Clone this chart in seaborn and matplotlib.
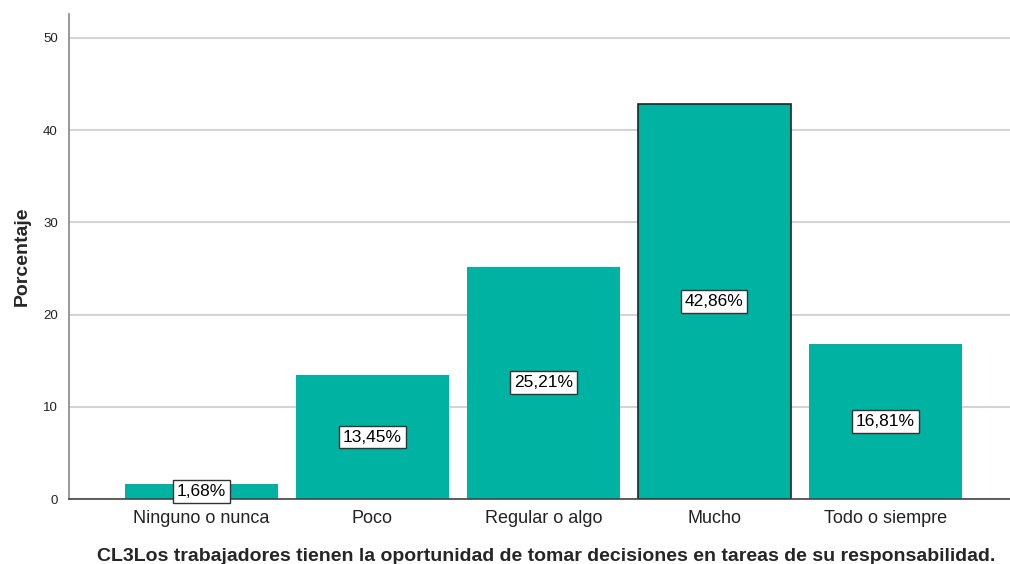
import matplotlib
matplotlib.use("Agg")
import matplotlib.pyplot as plt
import seaborn as sns
import pandas as pd

categorias = ["Ninguno o nunca", "Poco", "Regular o algo", "Mucho", "Todo o siempre"]
porcentajes = [1.68, 13.45, 25.21, 42.86, 16.81]
etiquetas = ["1,68%", "13,45%", "25,21%", "42,86%", "16,81%"]
y_ticks = [0, 10, 20, 30, 40, 50]

df = pd.DataFrame({"Categoria": categorias, "Porcentaje": porcentajes})

sns.set_style("white")
plt.rcParams["font.family"] = ["Liberation Sans", "DejaVu Sans"]

fig = plt.figure(figsize=(10.1, 5.64), dpi=100)
ax = fig.add_axes([0.0683, 0.1152, 0.9317, 0.8600])

sns.barplot(data=df, x="Categoria", y="Porcentaje", color="#00b2a1",
            saturation=1, width=0.895, ax=ax, zorder=2)

# la barra "Mucho" aparece con borde oscuro
for i, patch in enumerate(ax.patches):
    if categorias[i] == "Mucho":
        patch.set_edgecolor("#222222")
        patch.set_linewidth(1.2)
    else:
        patch.set_linewidth(0)

for i, (v, txt) in enumerate(zip(porcentajes, etiquetas)):
    ax.text(i, v / 2, txt, ha="center", va="center", fontsize=12.5, color="#000000",
            zorder=5,
            bbox=dict(boxstyle="square,pad=0.22", facecolor="white",
                      edgecolor="#333333", linewidth=1))

ax.set_xlim(-0.775, 4.73)
ax.set_ylim(0, 52.6)
ax.set_yticks(y_ticks)
ax.yaxis.grid(True, color="#d4d4d4", linewidth=1.5, zorder=0)
ax.set_axisbelow(True)
ax.tick_params(axis="both", length=0)
ax.tick_params(axis="y", labelsize=9.5, colors="#222222", pad=8)
ax.tick_params(axis="x", labelsize=13, colors="#222222", pad=8)

ax.set_ylabel("Porcentaje", fontsize=14, fontweight="bold", labelpad=9)
ax.set_xlabel("CL3Los trabajadores tienen la oportunidad de tomar decisiones en tareas de su responsabilidad.",
              fontsize=14, fontweight="bold")
ax.xaxis.set_label_coords(0.507, -0.1)

for s in ["top", "right"]:
    ax.spines[s].set_visible(False)
ax.spines["left"].set_color("#888888")
ax.spines["left"].set_linewidth(1.2)
ax.spines["bottom"].set_color("#444444")
ax.spines["bottom"].set_linewidth(1.2)

fig.savefig("out.png", dpi=100)
